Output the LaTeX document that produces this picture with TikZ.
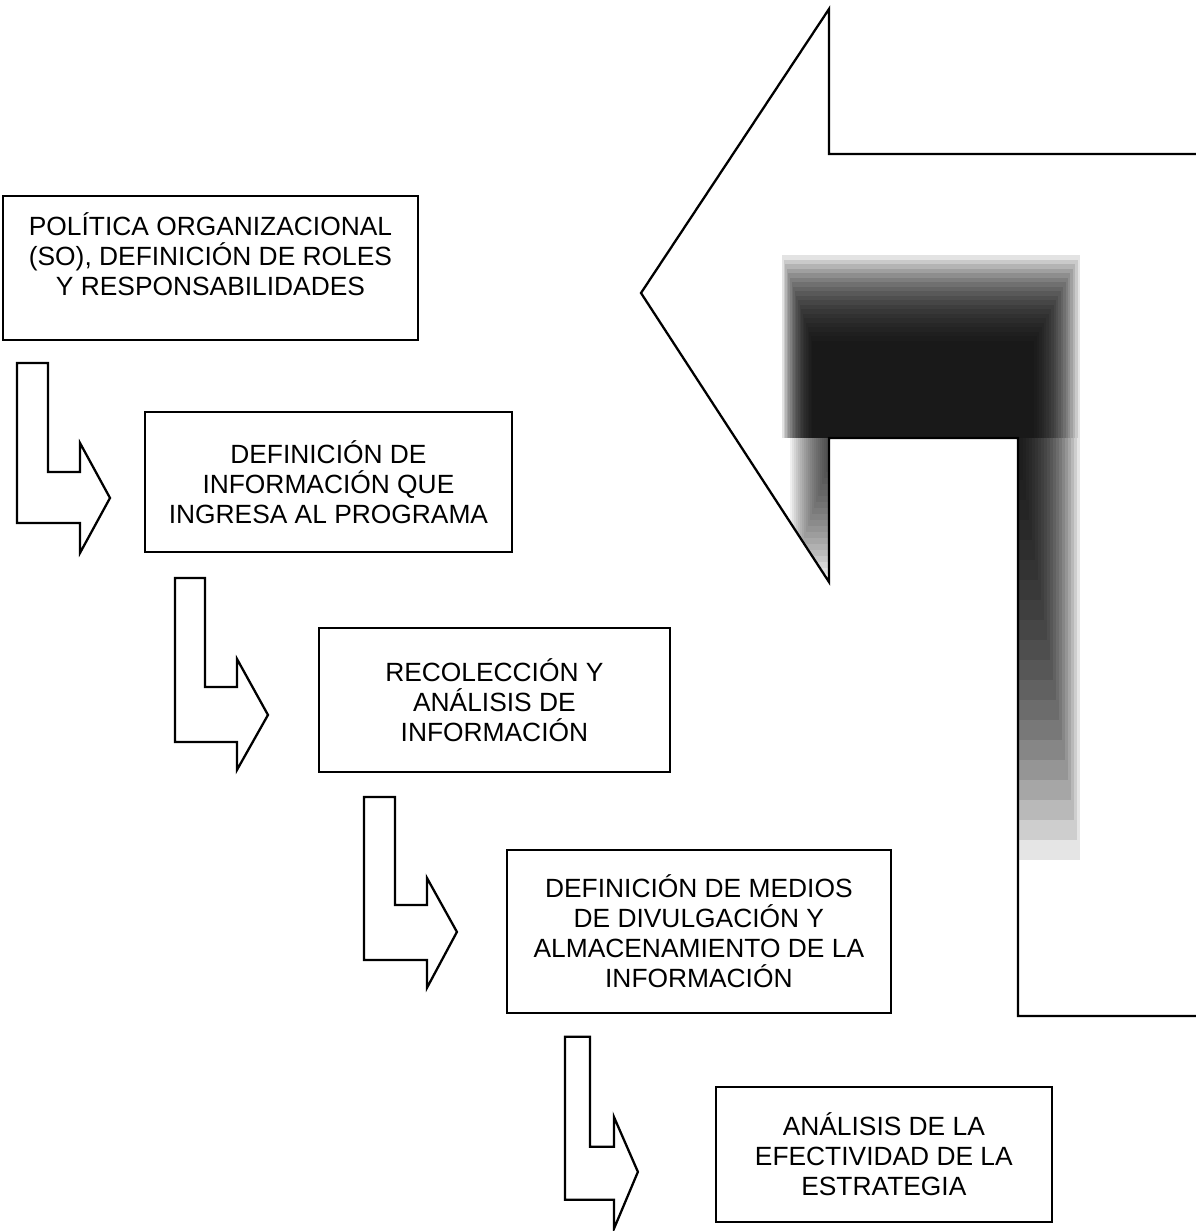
\documentclass[tikz,border=0pt]{standalone}
\usepackage{fontspec}
\setmainfont{Liberation Sans}
\usetikzlibrary{positioning, calc}

\begin{document}
\begin{tikzpicture}[x=0.02cm, y=-0.02cm,
  box/.style={draw, line width=1.3pt, align=center, inner sep=0pt, outer sep=0pt, font=\fontsize{15}{17}\selectfont},
  blk/.style={draw, line width=1.3pt, fill=white}
]
\useasboundingbox (0,0) rectangle (1196,1231);

% big return arrow with its smudge
\begin{scope}
\clip (1200,154) -- (829,154) -- (829,9) -- (641,293) -- (829,582) -- (829,438) -- (1018,438) -- (1018,1016) -- (1200,1016) -- cycle;
\foreach \i in {0,...,19}
  \fill[black, opacity=0.11] (782+1.6*\i, 255+4.5*\i) rectangle (1080-2.4*\i, 438);
\foreach \i in {0,...,19}
  \fill[black, opacity=0.06] (790+2*\i, 438) rectangle (829, 580-6*\i);
\foreach \i in {0,...,19}
  \fill[black, opacity=0.1] (1018,438) rectangle (1080-3*\i, 860-20*\i);
\end{scope}
\draw[line width=1.3pt] (1200,154) -- (829,154) -- (829,9) -- (641,293) -- (829,582) -- (829,438) -- (1018,438) -- (1018,1016) -- (1200,1016);

\node[box, minimum width=8.3cm, minimum height=2.88cm, text height=1.99cm, text depth=0.89cm, anchor=north west] (pol) at (3,196) {POLÍTICA ORGANIZACIONAL\\(SO), DEFINICIÓN DE ROLES\\Y RESPONSABILIDADES};
\node[box, minimum width=7.34cm, minimum height=2.8cm, below right=1.44cm and 2.84cm of pol.south west] (def) {DEFINICIÓN DE\\INFORMACIÓN QUE\\INGRESA AL PROGRAMA};
\node[box, minimum width=7.02cm, minimum height=2.88cm, below right=1.52cm and 3.48cm of def.south west] (rec) {RECOLECCIÓN Y\\ANÁLISIS DE\\INFORMACIÓN};
\node[box, minimum width=7.68cm, minimum height=3.26cm, below right=1.56cm and 3.76cm of rec.south west] (med) {DEFINICIÓN DE MEDIOS\\DE DIVULGACIÓN Y\\ALMACENAMIENTO DE LA\\INFORMACIÓN};
\node[box, minimum width=6.72cm, minimum height=2.7cm, below right=1.48cm and 4.18cm of med.south west] (efe) {ANÁLISIS DE LA\\EFECTIVIDAD DE LA\\ESTRATEGIA};

% bent block arrows between the boxes
\draw[blk] ($(pol.south west)+(14,23)$) -- ++(31,0) -- ++(0,109) -- ++(32,0) -- ++(0,-29) -- ++(30,55) -- ++(-30,55) -- ++(0,-30) -- ++(-63,0) -- cycle;
\draw[blk] ($(def.south west)+(30,26)$) -- ++(30,0) -- ++(0,109) -- ++(32,0) -- ++(0,-28) -- ++(31,56) -- ++(-31,55) -- ++(0,-28) -- ++(-62,0) -- cycle;
\draw[blk] ($(rec.south west)+(45,25)$) -- ++(31,0) -- ++(0,108) -- ++(32,0) -- ++(0,-27) -- ++(30,54) -- ++(-30,56) -- ++(0,-28) -- ++(-63,0) -- cycle;
\draw[blk] ($(med.south west)+(58,24)$) -- ++(25,0) -- ++(0,110) -- ++(24,0) -- ++(0,-30) -- ++(24,55) -- ++(-24,57) -- ++(0,-29) -- ++(-49,0) -- cycle;
\end{tikzpicture}
\end{document}
